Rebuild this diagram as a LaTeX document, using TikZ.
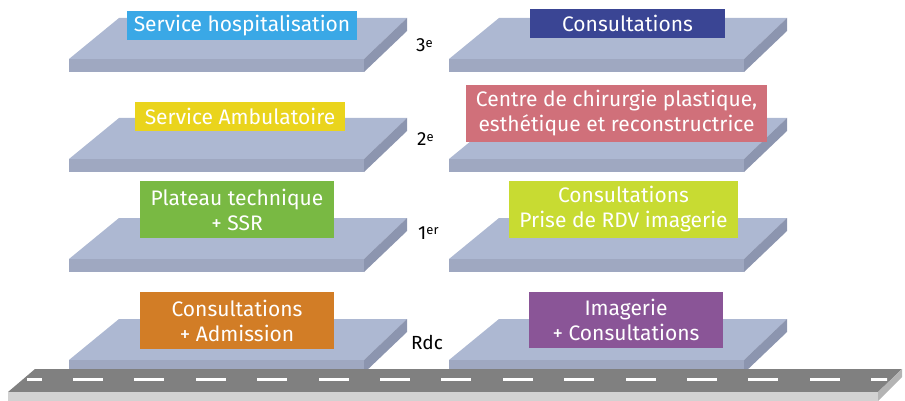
\documentclass[tikz,border=0pt]{standalone}
\usepackage{fontspec}
\setmainfont{Fira Sans}
\definecolor{slabtop}{HTML}{ADB8D2}
\definecolor{slabfront}{HTML}{9FA8C1}
\definecolor{slabside}{HTML}{8C95AF}
\definecolor{roadtop}{HTML}{808080}
\definecolor{roadfront}{HTML}{D2D2D2}
\definecolor{roadside}{HTML}{B4B4B4}
\definecolor{hospblue}{HTML}{3AA8E6}
\definecolor{consblue}{HTML}{3A4594}
\definecolor{ambuyellow}{HTML}{EAD41C}
\definecolor{chirrose}{HTML}{D0707A}
\definecolor{platgreen}{HTML}{79B943}
\definecolor{rdvlime}{HTML}{C8DB32}
\definecolor{admorange}{HTML}{D27D26}
\definecolor{imagpurple}{HTML}{8A5597}
\newcommand{\levelsup}[1]{\raisebox{4.5pt}{\fontsize{13}{13}\selectfont #1}}
\begin{document}
\begin{tikzpicture}[x=1pt,y=-1pt,
    tag/.style={inner sep=0pt,text=white,align=center,font=\fontsize{21}{25}\selectfont},
    levelname/.style={anchor=base west,inner sep=0pt,font=\fontsize{19}{20}\selectfont}]
    \useasboundingbox (0,0) rectangle (905,401);
    \foreach \y in {18,118,218,319} {
      \foreach \x in {69,449} {
        \fill[slabtop] (\x,\y+41) -- (\x+50,\y) -- (\x+338,\y) -- (\x+295,\y+41) -- cycle;
        \fill[slabfront] (\x,\y+41) rectangle (\x+295,\y+54);
        \fill[slabside] (\x+295,\y+41) -- (\x+338,\y) -- (\x+338,\y+13) -- (\x+295,\y+54) -- cycle;
      }
    }
    \fill[roadtop] (8,392) -- (35,369) -- (902,369) -- (878,392) -- cycle;
    \fill[roadfront] (8,392) rectangle (878,401);
    \fill[roadside] (878,392) -- (902,369) -- (902,377) -- (878,401) -- cycle;
    \begin{scope}
      \clip (27,370) rectangle (887,390);
      \foreach \k in {-1,...,13} {
        \fill[white] (73+61.4*\k,378) rectangle (103+61.4*\k,381);
      }
    \end{scope}
    \node[tag,fill=hospblue,minimum width=230,minimum height=29] (hosp) at (242,25.5) {Service hospitalisation};
    \node[tag,fill=consblue,minimum width=195,minimum height=29] (consult3) at (627.5,23.5) {Consultations};
    \node[tag,fill=ambuyellow,minimum width=210,minimum height=29] (ambu) at (240,116.5) {Service Ambulatoire};
    \node[tag,fill=chirrose,minimum width=301,minimum height=57] (chir) at (616.5,113.5) {Centre de chirurgie plastique,\\esthétique et reconstructrice};
    \node[tag,fill=platgreen,minimum width=194,minimum height=57] (plateau) at (237,209.5) {Plateau technique\\+ SSR};
    \node[tag,fill=rdvlime,minimum width=229,minimum height=57] (rdv) at (623.5,209.5) {Consultations\\Prise de RDV imagerie};
    \node[tag,fill=admorange,minimum width=194,minimum height=57] (admission) at (237,320.5) {Consultations\\+ Admission};
    \node[tag,fill=imagpurple,minimum width=194,minimum height=56] (imagerie) at (626,320) {Imagerie\\+ Consultations};
    \node[levelname] (f3) at (416,52) {3\levelsup{e}};
    \node[levelname] (f2) at (417,146) {2\levelsup{e}};
    \node[levelname] (f1) at (418,239) {1\levelsup{er}};
    \node[levelname] (rdc) at (411,349) {Rdc};
  \end{tikzpicture}
\end{document}
